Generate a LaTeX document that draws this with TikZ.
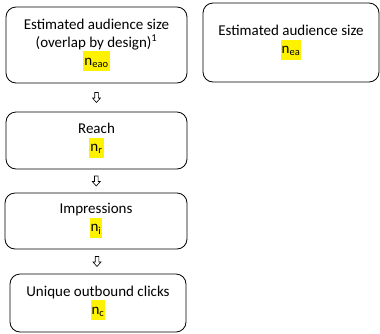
\documentclass[tikz,border=0pt]{standalone}
\usepackage{fontspec}
\setmainfont{Carlito}
\usepackage{xcolor}
\newcommand{\hl}[1]{{\setlength{\fboxsep}{1pt}\colorbox{yellow}{\strut #1}}}
\newcommand{\nsub}[1]{n\textsubscript{#1}}
\begin{document}
\begin{tikzpicture}[x=1pt,y=-1pt,
  stagebox/.style={draw=black, line width=0.8pt, rounded corners=10pt, fill=white,
    align=center, inner sep=0pt, font=\fontsize{15}{18}\selectfont},
  downarrow/.style={draw=black, line width=0.6pt, fill=white}
]
\useasboundingbox (0,0) rectangle (380,333);

\node[stagebox, minimum width=181pt, minimum height=76pt] (ea0) at (96.5,45)
  {Estimated audience size\\(overlap by design)\textsuperscript{1}\\\hl{\nsub{eao}}};
\node[stagebox, minimum width=176pt, minimum height=79pt] (ea) at (291,42.5)
  {Estimated audience size\\\hl{\nsub{ea}}};
\node[stagebox, minimum width=181pt, minimum height=57pt] (reach) at (96.5,140.5)
  {Reach\\\hl{\nsub{r}}};
\node[stagebox, minimum width=182pt, minimum height=56pt] (impr) at (96,221)
  {Impressions\\\hl{\nsub{i}}};
\node[stagebox, minimum width=176pt, minimum height=58pt] (clicks) at (98,303)
  {Unique outbound clicks\\\hl{\nsub{c}}};

% hollow down arrows between consecutive stages
\foreach \a/\b in {ea0/reach, reach/impr, impr/clicks} {
  \path (\a.south) -- (\b.north) coordinate[midway] (m-\a);
  \draw[downarrow] ([xshift=-1.8pt,yshift=5pt]m-\a) -- ([xshift=1.8pt,yshift=5pt]m-\a)
    -- ([xshift=1.8pt,yshift=-0.5pt]m-\a) -- ([xshift=4pt,yshift=-0.5pt]m-\a)
    -- ([yshift=-5pt]m-\a) -- ([xshift=-4pt,yshift=-0.5pt]m-\a)
    -- ([xshift=-1.8pt,yshift=-0.5pt]m-\a) -- cycle;
}
\end{tikzpicture}
\end{document}
